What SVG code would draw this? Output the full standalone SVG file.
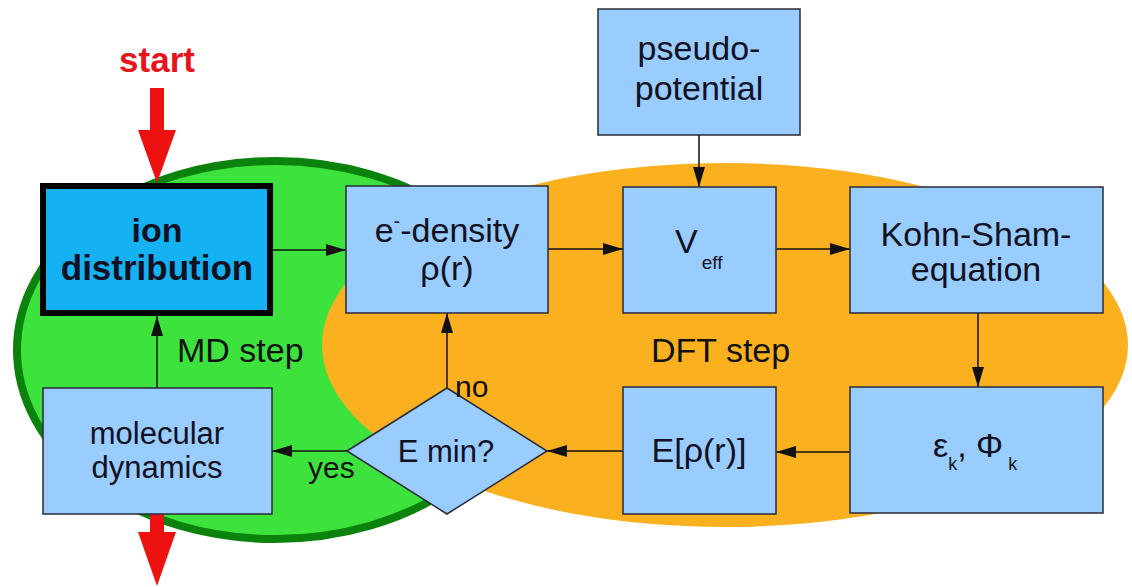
<svg xmlns="http://www.w3.org/2000/svg" width="1132" height="587" viewBox="0 0 1132 587">
<style>
.box{fill:#99ccff;stroke:#2a2a3a;stroke-width:1.5}
.t{font-family:"Liberation Sans",Arial,sans-serif;font-size:34px;fill:#111122;text-anchor:middle}
.lbl{font-family:"Liberation Sans",Arial,sans-serif;font-size:34px;fill:#111;}
.b{font-weight:bold}
.c{stroke:#111;stroke-width:1.5;fill:none;marker-end:url(#ah)}
</style>
<defs>
<marker id="ah" markerUnits="userSpaceOnUse" markerWidth="20" markerHeight="12" refX="20" refY="6" orient="auto">
<path d="M0,0 L20,6 L0,12 z" fill="#111"/>
</marker>
</defs>
<rect width="1132" height="587" fill="#ffffff"/>
<g id="md-region">
<ellipse cx="275" cy="350" rx="258" ry="189" fill="#3de23d" stroke="#0b820b" stroke-width="8"/>
</g>
<g id="dft-region">
<ellipse cx="725" cy="345" rx="403" ry="182" fill="#fbb11f"/>
</g>
<g id="region-labels">
<text class="lbl" x="177" y="362">MD step</text>
<text class="lbl" x="651" y="362">DFT step</text>
</g>
<g id="start">
<text x="157" y="72" font-family="Liberation Sans,Arial,sans-serif" font-size="35" font-weight="bold" fill="#e8141c" text-anchor="middle">start</text>
<polygon points="150,88 164,88 164,130 176,130 157,183 138,130 150,130" fill="#ee1111"/>
</g>
<g id="end-arrow">
<polygon points="150,514 164,514 164,532 176,532 157,586 138,532 150,532" fill="#ee1111"/>
</g>
<g id="connectors">
<line class="c" x1="273" y1="250" x2="346" y2="250"/>
<line class="c" x1="548" y1="249" x2="623" y2="249"/>
<line class="c" x1="776" y1="249" x2="850" y2="249"/>
<line class="c" x1="699" y1="135" x2="699" y2="187"/>
<line class="c" x1="978" y1="313" x2="978" y2="387"/>
<line class="c" x1="850" y1="452" x2="776" y2="452"/>
<line class="c" x1="623" y1="451" x2="547" y2="451"/>
<line class="c" x1="447" y1="388" x2="447" y2="313"/>
<line class="c" x1="347" y1="451" x2="272" y2="451"/>
<line class="c" x1="157" y1="388" x2="157" y2="316"/>
</g>
<g id="ion-distribution">
<rect x="43" y="186" width="227" height="127" fill="#14b2f2" stroke="#000" stroke-width="6"/>
<text class="t b" x="157" y="242" fill="#000">ion</text>
<text class="t b" x="157" y="280" fill="#000" style="font-size:35px">distribution</text>
</g>
<g id="e-density">
<rect class="box" x="346" y="186" width="202" height="127"/>
<text class="t" x="447" y="242">e<tspan font-size="20" dy="-14">-</tspan><tspan dy="14">-density</tspan></text>
<text class="t" x="447" y="280">ρ(r)</text>
</g>
<g id="veff">
<rect class="box" x="623" y="187" width="153" height="126"/>
<text x="675" y="253" font-family="Liberation Sans,Arial,sans-serif" font-size="34" fill="#111122">V<tspan font-size="19" dx="4" dy="16">eff</tspan></text>
</g>
<g id="pseudo-potential">
<rect class="box" x="598" y="9" width="202" height="126"/>
<text class="t" x="699" y="60">pseudo-</text>
<text class="t" x="699" y="100">potential</text>
</g>
<g id="kohn-sham">
<rect class="box" x="850" y="187" width="253" height="126"/>
<text class="t" x="976" y="246">Kohn-Sham-</text>
<text class="t" x="976" y="281">equation</text>
</g>
<g id="eps-phi">
<rect class="box" x="850" y="387" width="253" height="126"/>
<text x="933" y="457" font-family="Liberation Sans,Arial,sans-serif" font-size="34" fill="#111122">ε<tspan font-size="18" dy="13">k</tspan><tspan dy="-13">, Φ</tspan><tspan font-size="18" dx="5" dy="13">k</tspan></text>
</g>
<g id="e-functional">
<rect class="box" x="623" y="387" width="153" height="127"/>
<text class="t" x="699" y="462" font-size="32">E[ρ(r)]</text>
</g>
<g id="e-min">
<polygon class="box" points="347,451 447,388 547,451 447,514"/>
<text class="t" x="446" y="462" style="font-size:31px">E min?</text>
</g>
<g id="molecular-dynamics">
<rect class="box" x="43" y="388" width="229" height="126"/>
<text class="t" x="157" y="444" style="font-size:31px">molecular</text>
<text class="t" x="157" y="478" style="font-size:31px">dynamics</text>
</g>
<g id="branch-labels">
<text class="lbl" x="455" y="397" style="font-size:30px">no</text>
<text class="lbl" x="308" y="478" style="font-size:30px">yes</text>
</g>
</svg>
